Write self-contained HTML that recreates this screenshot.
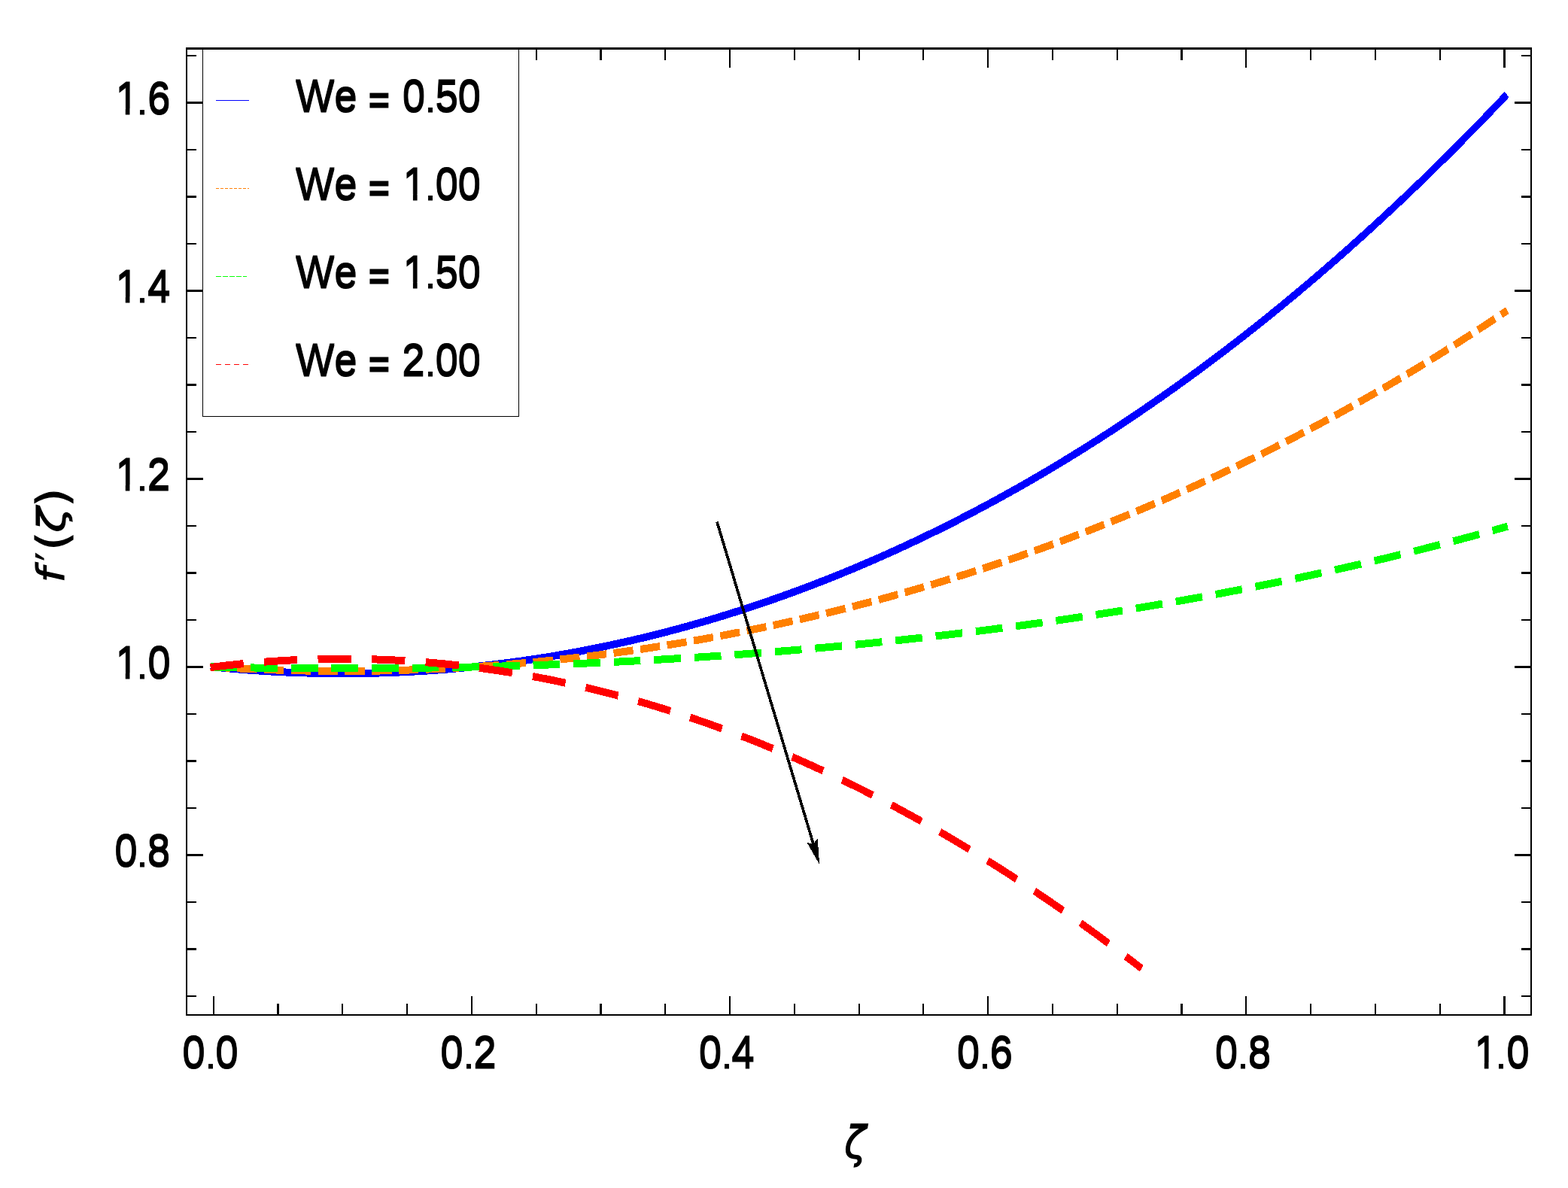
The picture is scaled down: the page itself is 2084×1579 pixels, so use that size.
<!DOCTYPE html>
<html lang="en"><head><meta charset="utf-8"><title>f′(ζ) versus ζ for several We</title>
<style>html,body{margin:0;padding:0;background:#fff}body{width:2084px;height:1579px;overflow:hidden}svg{display:block}text{font-family:"Liberation Sans", Arial, Helvetica, sans-serif;fill:#000}text.m{font-family:"DejaVu Sans","Liberation Sans",sans-serif}</style></head><body>
<svg width="2084" height="1579" viewBox="0 0 2084 1579">
<rect x="0" y="0" width="2084" height="1579" fill="#fff"/>
<g fill="#000" shape-rendering="crispEdges">
<rect x="283" y="1324" width="2" height="24"/>
<rect x="283" y="66" width="2" height="24"/>
<rect x="368" y="1334" width="3" height="14"/>
<rect x="368" y="66" width="3" height="14"/>
<rect x="454" y="1334" width="2" height="14"/>
<rect x="454" y="66" width="2" height="14"/>
<rect x="540" y="1334" width="2" height="14"/>
<rect x="540" y="66" width="2" height="14"/>
<rect x="626" y="1324" width="2" height="24"/>
<rect x="626" y="66" width="2" height="24"/>
<rect x="712" y="1334" width="2" height="14"/>
<rect x="712" y="66" width="2" height="14"/>
<rect x="797" y="1334" width="3" height="14"/>
<rect x="797" y="66" width="3" height="14"/>
<rect x="883" y="1334" width="2" height="14"/>
<rect x="883" y="66" width="2" height="14"/>
<rect x="969" y="1324" width="2" height="24"/>
<rect x="969" y="66" width="2" height="24"/>
<rect x="1055" y="1334" width="2" height="14"/>
<rect x="1055" y="66" width="2" height="14"/>
<rect x="1141" y="1334" width="2" height="14"/>
<rect x="1141" y="66" width="2" height="14"/>
<rect x="1226" y="1334" width="2" height="14"/>
<rect x="1226" y="66" width="2" height="14"/>
<rect x="1312" y="1324" width="2" height="24"/>
<rect x="1312" y="66" width="2" height="24"/>
<rect x="1398" y="1334" width="2" height="14"/>
<rect x="1398" y="66" width="2" height="14"/>
<rect x="1484" y="1334" width="2" height="14"/>
<rect x="1484" y="66" width="2" height="14"/>
<rect x="1569" y="1334" width="3" height="14"/>
<rect x="1569" y="66" width="3" height="14"/>
<rect x="1655" y="1324" width="2" height="24"/>
<rect x="1655" y="66" width="2" height="24"/>
<rect x="1741" y="1334" width="2" height="14"/>
<rect x="1741" y="66" width="2" height="14"/>
<rect x="1827" y="1334" width="2" height="14"/>
<rect x="1827" y="66" width="2" height="14"/>
<rect x="1913" y="1334" width="2" height="14"/>
<rect x="1913" y="66" width="2" height="14"/>
<rect x="1998" y="1324" width="3" height="24"/>
<rect x="1998" y="66" width="3" height="24"/>
<rect x="249" y="1323" width="12" height="2"/>
<rect x="2022" y="1323" width="12" height="2"/>
<rect x="249" y="1260" width="12" height="3"/>
<rect x="2022" y="1260" width="12" height="3"/>
<rect x="249" y="1198" width="12" height="2"/>
<rect x="2022" y="1198" width="12" height="2"/>
<rect x="249" y="1135" width="21" height="3"/>
<rect x="2013" y="1135" width="21" height="3"/>
<rect x="249" y="1073" width="12" height="2"/>
<rect x="2022" y="1073" width="12" height="2"/>
<rect x="249" y="1010" width="12" height="3"/>
<rect x="2022" y="1010" width="12" height="3"/>
<rect x="249" y="948" width="12" height="2"/>
<rect x="2022" y="948" width="12" height="2"/>
<rect x="249" y="885" width="21" height="3"/>
<rect x="2013" y="885" width="21" height="3"/>
<rect x="249" y="823" width="12" height="2"/>
<rect x="2022" y="823" width="12" height="2"/>
<rect x="249" y="760" width="12" height="3"/>
<rect x="2022" y="760" width="12" height="3"/>
<rect x="249" y="698" width="12" height="2"/>
<rect x="2022" y="698" width="12" height="2"/>
<rect x="249" y="635" width="21" height="3"/>
<rect x="2013" y="635" width="21" height="3"/>
<rect x="249" y="573" width="12" height="2"/>
<rect x="2022" y="573" width="12" height="2"/>
<rect x="249" y="510" width="12" height="3"/>
<rect x="2022" y="510" width="12" height="3"/>
<rect x="249" y="448" width="12" height="2"/>
<rect x="2022" y="448" width="12" height="2"/>
<rect x="249" y="385" width="21" height="3"/>
<rect x="2013" y="385" width="21" height="3"/>
<rect x="249" y="323" width="12" height="2"/>
<rect x="2022" y="323" width="12" height="2"/>
<rect x="249" y="260" width="12" height="3"/>
<rect x="2022" y="260" width="12" height="3"/>
<rect x="249" y="198" width="12" height="2"/>
<rect x="2022" y="198" width="12" height="2"/>
<rect x="249" y="135" width="21" height="3"/>
<rect x="2013" y="135" width="21" height="3"/>
<rect x="249" y="73" width="12" height="2"/>
<rect x="2022" y="73" width="12" height="2"/>
</g>
<g transform="scale(0.875 1)" fill="none" stroke-width="10" stroke-linecap="butt" stroke-linejoin="round" shape-rendering="crispEdges">
<path stroke="#0000ff" d="M319.59 886.06 L324.57 886.50 L329.47 886.93 L334.37 887.35 L339.28 887.75 L344.18 888.15 L349.08 888.53 L353.98 888.91 L358.88 889.27 L363.78 889.62 L368.68 889.97 L373.59 890.30 L378.49 890.62 L383.39 890.93 L388.29 891.22 L393.19 891.51 L398.09 891.79 L402.99 892.06 L407.90 892.31 L412.80 892.56 L417.70 892.79 L422.60 893.01 L427.50 893.23 L432.40 893.43 L437.30 893.62 L442.21 893.80 L447.11 893.97 L452.01 894.12 L456.91 894.27 L461.81 894.41 L466.71 894.53 L471.61 894.65 L476.52 894.75 L481.42 894.85 L486.32 894.93 L491.22 895.00 L496.12 895.06 L501.02 895.11 L505.92 895.15 L510.83 895.18 L515.73 895.19 L520.63 895.20 L525.53 895.20 L530.43 895.18 L535.33 895.15 L540.23 895.12 L545.14 895.07 L550.04 895.01 L554.94 894.94 L559.84 894.86 L564.74 894.77 L569.64 894.66 L574.54 894.55 L579.45 894.43 L584.35 894.29 L589.25 894.15 L594.15 893.99 L599.05 893.82 L603.95 893.64 L608.85 893.45 L613.76 893.25 L618.66 893.04 L623.56 892.82 L628.46 892.58 L633.36 892.34 L638.26 892.08 L643.16 891.82 L648.07 891.54 L652.97 891.25 L657.87 890.95 L662.77 890.64 L667.67 890.32 L672.57 889.99 L677.47 889.64 L682.38 889.29 L687.28 888.92 L692.18 888.55 L697.08 888.16 L701.98 887.76 L706.88 887.35 L711.78 886.93 L716.69 886.50 L721.59 886.06 L726.49 885.60 L731.39 885.14 L736.29 884.66 L741.19 884.18 L746.09 883.68 L751.00 883.17 L755.90 882.65 L760.80 882.12 L765.70 881.58 L770.60 881.02 L775.50 880.46 L780.40 879.88 L785.31 879.30 L790.21 878.70 L795.11 878.09 L800.01 877.47 L804.91 876.84 L809.81 876.20 L814.71 875.54 L819.62 874.88 L824.52 874.20 L829.42 873.52 L834.32 872.82 L839.22 872.11 L844.12 871.39 L849.02 870.66 L853.93 869.91 L858.83 869.16 L863.73 868.40 L868.63 867.62 L873.53 866.83 L878.43 866.03 L883.33 865.22 L888.24 864.40 L893.14 863.57 L898.04 862.72 L902.94 861.87 L907.84 861.00 L912.74 860.12 L917.64 859.24 L922.55 858.33 L927.45 857.42 L932.35 856.50 L937.25 855.57 L942.15 854.62 L947.05 853.66 L951.95 852.69 L956.86 851.71 L961.76 850.72 L966.66 849.72 L971.56 848.71 L976.46 847.68 L981.36 846.65 L986.26 845.60 L991.17 844.54 L996.07 843.47 L1000.97 842.38 L1005.87 841.29 L1010.77 840.19 L1015.67 839.07 L1020.57 837.94 L1025.48 836.80 L1030.38 835.65 L1035.28 834.49 L1040.18 833.31 L1045.08 832.13 L1049.98 830.93 L1054.88 829.72 L1059.79 828.50 L1064.69 827.27 L1069.59 826.03 L1074.49 824.77 L1079.39 823.50 L1084.29 822.23 L1089.19 820.94 L1094.10 819.64 L1099.00 818.32 L1103.90 817.00 L1108.80 815.66 L1113.70 814.32 L1118.60 812.96 L1123.50 811.58 L1128.41 810.20 L1133.31 808.81 L1138.21 807.40 L1143.11 805.98 L1148.01 804.55 L1152.91 803.11 L1157.81 801.66 L1162.72 800.20 L1167.62 798.72 L1172.52 797.23 L1177.42 795.73 L1182.32 794.22 L1187.22 792.70 L1192.12 791.16 L1197.03 789.61 L1201.93 788.05 L1206.83 786.48 L1211.73 784.90 L1216.63 783.31 L1221.53 781.70 L1226.43 780.08 L1231.34 778.45 L1236.24 776.81 L1241.14 775.16 L1246.04 773.49 L1250.94 771.81 L1255.84 770.12 L1260.74 768.42 L1265.65 766.71 L1270.55 764.98 L1275.45 763.25 L1280.35 761.50 L1285.25 759.73 L1290.15 757.96 L1295.05 756.18 L1299.96 754.38 L1304.86 752.57 L1309.76 750.75 L1314.66 748.91 L1319.56 747.07 L1324.46 745.21 L1329.36 743.34 L1334.27 741.46 L1339.17 739.56 L1344.07 737.66 L1348.97 735.74 L1353.87 733.81 L1358.77 731.86 L1363.67 729.91 L1368.58 727.94 L1373.48 725.96 L1378.38 723.97 L1383.28 721.97 L1388.18 719.95 L1393.08 717.92 L1397.98 715.88 L1402.89 713.83 L1407.79 711.76 L1412.69 709.68 L1417.59 707.59 L1422.49 705.49 L1427.39 703.38 L1432.29 701.25 L1437.20 699.11 L1442.10 696.96 L1447.00 694.79 L1451.90 692.62 L1456.80 690.43 L1461.70 688.22 L1466.60 686.01 L1471.51 683.78 L1476.41 681.54 L1481.31 679.29 L1486.21 677.03 L1491.11 674.75 L1496.01 672.46 L1500.91 670.16 L1505.82 667.85 L1510.72 665.52 L1515.62 663.18 L1520.52 660.83 L1525.42 658.46 L1530.32 656.08 L1535.22 653.69 L1540.13 651.29 L1545.03 648.88 L1549.93 646.45 L1554.83 644.01 L1559.73 641.55 L1564.63 639.09 L1569.53 636.61 L1574.44 634.12 L1579.34 631.61 L1584.24 629.09 L1589.14 626.56 L1594.04 624.02 L1598.94 621.46 L1603.84 618.89 L1608.75 616.31 L1613.65 613.72 L1618.55 611.11 L1623.45 608.49 L1628.35 605.86 L1633.25 603.21 L1638.15 600.55 L1643.06 597.88 L1647.96 595.19 L1652.86 592.49 L1657.76 589.78 L1662.66 587.06 L1667.56 584.32 L1672.46 581.57 L1677.37 578.81 L1682.27 576.03 L1687.17 573.24 L1692.07 570.44 L1696.97 567.62 L1701.87 564.79 L1706.77 561.95 L1711.68 559.09 L1716.58 556.22 L1721.48 553.34 L1726.38 550.45 L1731.28 547.54 L1736.18 544.61 L1741.08 541.68 L1745.99 538.73 L1750.89 535.77 L1755.79 532.79 L1760.69 529.80 L1765.59 526.80 L1770.49 523.79 L1775.39 520.76 L1780.30 517.72 L1785.20 514.66 L1790.10 511.59 L1795.00 508.51 L1799.90 505.41 L1804.80 502.30 L1809.70 499.18 L1814.61 496.04 L1819.51 492.89 L1824.41 489.73 L1829.31 486.55 L1834.21 483.36 L1839.11 480.15 L1844.01 476.94 L1848.92 473.70 L1853.82 470.46 L1858.72 467.20 L1863.62 463.92 L1868.52 460.64 L1873.42 457.34 L1878.32 454.02 L1883.23 450.69 L1888.13 447.35 L1893.03 444.00 L1897.93 440.63 L1902.83 437.24 L1907.73 433.84 L1912.63 430.43 L1917.54 427.01 L1922.44 423.57 L1927.34 420.11 L1932.24 416.65 L1937.14 413.17 L1942.04 409.67 L1946.94 406.16 L1951.85 402.64 L1956.75 399.10 L1961.65 395.55 L1966.55 391.98 L1971.45 388.40 L1976.35 384.81 L1981.25 381.20 L1986.16 377.58 L1991.06 373.94 L1995.96 370.29 L2000.86 366.63 L2005.76 362.95 L2010.66 359.25 L2015.56 355.54 L2020.47 351.82 L2025.37 348.09 L2030.27 344.33 L2035.17 340.57 L2040.07 336.79 L2044.97 333.00 L2049.87 329.19 L2054.78 325.36 L2059.68 321.53 L2064.58 317.67 L2069.48 313.81 L2074.38 309.93 L2079.28 306.03 L2084.18 302.12 L2089.09 298.20 L2093.99 294.26 L2098.89 290.30 L2103.79 286.33 L2108.69 282.35 L2113.59 278.35 L2118.49 274.34 L2123.40 270.31 L2128.30 266.27 L2133.20 262.21 L2138.10 258.14 L2143.00 254.06 L2147.90 249.95 L2152.80 245.84 L2157.71 241.71 L2162.61 237.56 L2167.51 233.40 L2172.41 229.22 L2177.31 225.03 L2182.21 220.83 L2187.11 216.60 L2192.02 212.37 L2196.92 208.12 L2201.82 203.85 L2206.72 199.57 L2211.62 195.27 L2216.52 190.96 L2221.42 186.64 L2226.33 182.29 L2231.23 177.94 L2236.13 173.56 L2241.03 169.18 L2245.93 164.77 L2250.83 160.36 L2255.73 155.92 L2260.64 151.47 L2265.54 147.01 L2270.44 142.53 L2275.34 138.04 L2280.24 133.53 L2285.14 129.00 L2288.82 125.61"/>
<path stroke="#ff8000" stroke-dasharray="30 10.9" d="M319.58 886.22 L324.57 886.50 L329.47 886.77 L334.37 887.03 L339.28 887.29 L344.18 887.54 L349.08 887.79 L353.98 888.02 L358.88 888.25 L363.78 888.47 L368.68 888.69 L373.59 888.90 L378.49 889.10 L383.39 889.29 L388.29 889.48 L393.19 889.66 L398.09 889.84 L402.99 890.00 L407.90 890.16 L412.80 890.32 L417.70 890.46 L422.60 890.60 L427.50 890.74 L432.40 890.86 L437.30 890.98 L442.21 891.09 L447.11 891.20 L452.01 891.30 L456.91 891.39 L461.81 891.47 L466.71 891.55 L471.61 891.62 L476.52 891.69 L481.42 891.75 L486.32 891.80 L491.22 891.84 L496.12 891.88 L501.02 891.91 L505.92 891.93 L510.83 891.95 L515.73 891.96 L520.63 891.96 L525.53 891.96 L530.43 891.94 L535.33 891.93 L540.23 891.90 L545.14 891.87 L550.04 891.83 L554.94 891.79 L559.84 891.74 L564.74 891.68 L569.64 891.61 L574.54 891.54 L579.45 891.46 L584.35 891.38 L589.25 891.29 L594.15 891.19 L599.05 891.08 L603.95 890.97 L608.85 890.85 L613.76 890.72 L618.66 890.59 L623.56 890.45 L628.46 890.30 L633.36 890.15 L638.26 889.99 L643.16 889.82 L648.07 889.65 L652.97 889.47 L657.87 889.28 L662.77 889.08 L667.67 888.88 L672.57 888.68 L677.47 888.46 L682.38 888.24 L687.28 888.01 L692.18 887.78 L697.08 887.53 L701.98 887.29 L706.88 887.03 L711.78 886.77 L716.69 886.50 L721.59 886.22 L726.49 885.94 L731.39 885.65 L736.29 885.36 L741.19 885.05 L746.09 884.74 L751.00 884.43 L755.90 884.10 L760.80 883.77 L765.70 883.44 L770.60 883.09 L775.50 882.74 L780.40 882.39 L785.31 882.02 L790.21 881.65 L795.11 881.27 L800.01 880.89 L804.91 880.50 L809.81 880.10 L814.71 879.69 L819.62 879.28 L824.52 878.86 L829.42 878.44 L834.32 878.01 L839.22 877.57 L844.12 877.12 L849.02 876.67 L853.93 876.21 L858.83 875.74 L863.73 875.27 L868.63 874.79 L873.53 874.30 L878.43 873.81 L883.33 873.31 L888.24 872.80 L893.14 872.28 L898.04 871.76 L902.94 871.23 L907.84 870.70 L912.74 870.16 L917.64 869.61 L922.55 869.05 L927.45 868.49 L932.35 867.92 L937.25 867.34 L942.15 866.76 L947.05 866.17 L951.95 865.57 L956.86 864.97 L961.76 864.36 L966.66 863.74 L971.56 863.11 L976.46 862.48 L981.36 861.84 L986.26 861.20 L991.17 860.55 L996.07 859.89 L1000.97 859.22 L1005.87 858.55 L1010.77 857.86 L1015.67 857.18 L1020.57 856.48 L1025.48 855.78 L1030.38 855.07 L1035.28 854.36 L1040.18 853.63 L1045.08 852.91 L1049.98 852.17 L1054.88 851.43 L1059.79 850.67 L1064.69 849.92 L1069.59 849.15 L1074.49 848.38 L1079.39 847.60 L1084.29 846.82 L1089.19 846.02 L1094.10 845.22 L1099.00 844.42 L1103.90 843.60 L1108.80 842.78 L1113.70 841.95 L1118.60 841.12 L1123.50 840.28 L1128.41 839.43 L1133.31 838.57 L1138.21 837.70 L1143.11 836.83 L1148.01 835.96 L1152.91 835.07 L1157.81 834.18 L1162.72 833.28 L1167.62 832.37 L1172.52 831.46 L1177.42 830.54 L1182.32 829.61 L1187.22 828.67 L1192.12 827.73 L1197.03 826.78 L1201.93 825.82 L1206.83 824.86 L1211.73 823.89 L1216.63 822.91 L1221.53 821.92 L1226.43 820.93 L1231.34 819.93 L1236.24 818.92 L1241.14 817.90 L1246.04 816.88 L1250.94 815.85 L1255.84 814.81 L1260.74 813.77 L1265.65 812.72 L1270.55 811.66 L1275.45 810.59 L1280.35 809.52 L1285.25 808.44 L1290.15 807.35 L1295.05 806.25 L1299.96 805.15 L1304.86 804.04 L1309.76 802.92 L1314.66 801.79 L1319.56 800.66 L1324.46 799.52 L1329.36 798.37 L1334.27 797.22 L1339.17 796.05 L1344.07 794.88 L1348.97 793.70 L1353.87 792.52 L1358.77 791.33 L1363.67 790.12 L1368.58 788.92 L1373.48 787.70 L1378.38 786.48 L1383.28 785.25 L1388.18 784.01 L1393.08 782.76 L1397.98 781.51 L1402.89 780.25 L1407.79 778.98 L1412.69 777.70 L1417.59 776.42 L1422.49 775.13 L1427.39 773.83 L1432.29 772.52 L1437.20 771.20 L1442.10 769.88 L1447.00 768.55 L1451.90 767.21 L1456.80 765.87 L1461.70 764.51 L1466.60 763.15 L1471.51 761.78 L1476.41 760.41 L1481.31 759.02 L1486.21 757.63 L1491.11 756.23 L1496.01 754.82 L1500.91 753.41 L1505.82 751.98 L1510.72 750.55 L1515.62 749.11 L1520.52 747.66 L1525.42 746.21 L1530.32 744.74 L1535.22 743.27 L1540.13 741.79 L1545.03 740.31 L1549.93 738.81 L1554.83 737.31 L1559.73 735.80 L1564.63 734.28 L1569.53 732.75 L1574.44 731.22 L1579.34 729.67 L1584.24 728.12 L1589.14 726.56 L1594.04 724.99 L1598.94 723.42 L1603.84 721.83 L1608.75 720.24 L1613.65 718.64 L1618.55 717.03 L1623.45 715.42 L1628.35 713.79 L1633.25 712.16 L1638.15 710.52 L1643.06 708.87 L1647.96 707.21 L1652.86 705.55 L1657.76 703.87 L1662.66 702.19 L1667.56 700.50 L1672.46 698.80 L1677.37 697.09 L1682.27 695.38 L1687.17 693.65 L1692.07 691.92 L1696.97 690.18 L1701.87 688.43 L1706.77 686.67 L1711.68 684.91 L1716.58 683.13 L1721.48 681.35 L1726.38 679.56 L1731.28 677.76 L1736.18 675.95 L1741.08 674.13 L1745.99 672.31 L1750.89 670.47 L1755.79 668.63 L1760.69 666.78 L1765.59 664.92 L1770.49 663.05 L1775.39 661.17 L1780.30 659.28 L1785.20 657.39 L1790.10 655.49 L1795.00 653.57 L1799.90 651.65 L1804.80 649.72 L1809.70 647.78 L1814.61 645.84 L1819.51 643.88 L1824.41 641.91 L1829.31 639.94 L1834.21 637.96 L1839.11 635.97 L1844.01 633.97 L1848.92 631.96 L1853.82 629.94 L1858.72 627.91 L1863.62 625.88 L1868.52 623.83 L1873.42 621.78 L1878.32 619.71 L1883.23 617.64 L1888.13 615.56 L1893.03 613.47 L1897.93 611.37 L1902.83 609.26 L1907.73 607.14 L1912.63 605.02 L1917.54 602.88 L1922.44 600.73 L1927.34 598.58 L1932.24 596.42 L1937.14 594.24 L1942.04 592.06 L1946.94 589.87 L1951.85 587.67 L1956.75 585.46 L1961.65 583.24 L1966.55 581.01 L1971.45 578.77 L1976.35 576.53 L1981.25 574.27 L1986.16 572.00 L1991.06 569.73 L1995.96 567.44 L2000.86 565.15 L2005.76 562.84 L2010.66 560.53 L2015.56 558.21 L2020.47 555.87 L2025.37 553.53 L2030.27 551.18 L2035.17 548.82 L2040.07 546.45 L2044.97 544.06 L2049.87 541.67 L2054.78 539.27 L2059.68 536.86 L2064.58 534.44 L2069.48 532.01 L2074.38 529.57 L2079.28 527.12 L2084.18 524.67 L2089.09 522.20 L2093.99 519.72 L2098.89 517.23 L2103.79 514.73 L2108.69 512.22 L2113.59 509.70 L2118.49 507.17 L2123.40 504.64 L2128.30 502.09 L2133.20 499.53 L2138.10 496.96 L2143.00 494.38 L2147.90 491.79 L2152.80 489.19 L2157.71 486.58 L2162.61 483.96 L2167.51 481.33 L2172.41 478.69 L2177.31 476.04 L2182.21 473.38 L2187.11 470.71 L2192.02 468.03 L2196.92 465.34 L2201.82 462.64 L2206.72 459.93 L2211.62 457.20 L2216.52 454.47 L2221.42 451.73 L2226.33 448.97 L2231.23 446.21 L2236.13 443.43 L2241.03 440.65 L2245.93 437.85 L2250.83 435.05 L2255.73 432.23 L2260.64 429.40 L2265.54 426.56 L2270.44 423.71 L2275.34 420.85 L2280.24 417.98 L2285.14 415.10 L2289.45 412.57"/>
<path stroke="#00ff00" stroke-dasharray="40.8 20.48" d="M319.57 886.40 L324.57 886.50 L329.47 886.59 L334.37 886.69 L339.28 886.78 L344.18 886.86 L349.08 886.95 L353.98 887.03 L358.88 887.11 L363.78 887.19 L368.68 887.26 L373.59 887.33 L378.49 887.41 L383.39 887.47 L388.29 887.54 L393.19 887.60 L398.09 887.66 L402.99 887.72 L407.90 887.78 L412.80 887.83 L417.70 887.88 L422.60 887.93 L427.50 887.98 L432.40 888.02 L437.30 888.06 L442.21 888.10 L447.11 888.14 L452.01 888.18 L456.91 888.21 L461.81 888.24 L466.71 888.27 L471.61 888.29 L476.52 888.31 L481.42 888.33 L486.32 888.35 L491.22 888.37 L496.12 888.38 L501.02 888.39 L505.92 888.40 L510.83 888.41 L515.73 888.41 L520.63 888.41 L525.53 888.41 L530.43 888.41 L535.33 888.40 L540.23 888.39 L545.14 888.38 L550.04 888.37 L554.94 888.36 L559.84 888.34 L564.74 888.32 L569.64 888.30 L574.54 888.27 L579.45 888.24 L584.35 888.21 L589.25 888.18 L594.15 888.15 L599.05 888.11 L603.95 888.07 L608.85 888.03 L613.76 887.99 L618.66 887.94 L623.56 887.89 L628.46 887.84 L633.36 887.78 L638.26 887.73 L643.16 887.67 L648.07 887.61 L652.97 887.55 L657.87 887.48 L662.77 887.41 L667.67 887.34 L672.57 887.27 L677.47 887.19 L682.38 887.11 L687.28 887.03 L692.18 886.95 L697.08 886.87 L701.98 886.78 L706.88 886.69 L711.78 886.60 L716.69 886.50 L721.59 886.40 L726.49 886.30 L731.39 886.20 L736.29 886.10 L741.19 885.99 L746.09 885.88 L751.00 885.77 L755.90 885.65 L760.80 885.53 L765.70 885.41 L770.60 885.29 L775.50 885.17 L780.40 885.04 L785.31 884.91 L790.21 884.78 L795.11 884.64 L800.01 884.51 L804.91 884.37 L809.81 884.23 L814.71 884.08 L819.62 883.93 L824.52 883.78 L829.42 883.63 L834.32 883.48 L839.22 883.32 L844.12 883.16 L849.02 883.00 L853.93 882.83 L858.83 882.67 L863.73 882.50 L868.63 882.32 L873.53 882.15 L878.43 881.97 L883.33 881.79 L888.24 881.61 L893.14 881.43 L898.04 881.24 L902.94 881.05 L907.84 880.85 L912.74 880.66 L917.64 880.46 L922.55 880.26 L927.45 880.06 L932.35 879.85 L937.25 879.64 L942.15 879.43 L947.05 879.22 L951.95 879.00 L956.86 878.79 L961.76 878.56 L966.66 878.34 L971.56 878.11 L976.46 877.88 L981.36 877.65 L986.26 877.42 L991.17 877.18 L996.07 876.94 L1000.97 876.70 L1005.87 876.46 L1010.77 876.21 L1015.67 875.96 L1020.57 875.70 L1025.48 875.45 L1030.38 875.19 L1035.28 874.93 L1040.18 874.67 L1045.08 874.40 L1049.98 874.13 L1054.88 873.86 L1059.79 873.58 L1064.69 873.31 L1069.59 873.03 L1074.49 872.75 L1079.39 872.46 L1084.29 872.17 L1089.19 871.88 L1094.10 871.59 L1099.00 871.29 L1103.90 870.99 L1108.80 870.69 L1113.70 870.39 L1118.60 870.08 L1123.50 869.77 L1128.41 869.46 L1133.31 869.14 L1138.21 868.82 L1143.11 868.50 L1148.01 868.18 L1152.91 867.85 L1157.81 867.52 L1162.72 867.19 L1167.62 866.85 L1172.52 866.52 L1177.42 866.18 L1182.32 865.83 L1187.22 865.48 L1192.12 865.14 L1197.03 864.78 L1201.93 864.43 L1206.83 864.07 L1211.73 863.71 L1216.63 863.35 L1221.53 862.98 L1226.43 862.61 L1231.34 862.24 L1236.24 861.86 L1241.14 861.48 L1246.04 861.10 L1250.94 860.72 L1255.84 860.33 L1260.74 859.94 L1265.65 859.55 L1270.55 859.15 L1275.45 858.75 L1280.35 858.35 L1285.25 857.95 L1290.15 857.54 L1295.05 857.13 L1299.96 856.72 L1304.86 856.30 L1309.76 855.88 L1314.66 855.46 L1319.56 855.03 L1324.46 854.60 L1329.36 854.17 L1334.27 853.73 L1339.17 853.30 L1344.07 852.86 L1348.97 852.41 L1353.87 851.96 L1358.77 851.51 L1363.67 851.06 L1368.58 850.61 L1373.48 850.15 L1378.38 849.68 L1383.28 849.22 L1388.18 848.75 L1393.08 848.28 L1397.98 847.80 L1402.89 847.32 L1407.79 846.84 L1412.69 846.36 L1417.59 845.87 L1422.49 845.38 L1427.39 844.89 L1432.29 844.39 L1437.20 843.89 L1442.10 843.38 L1447.00 842.88 L1451.90 842.37 L1456.80 841.85 L1461.70 841.34 L1466.60 840.82 L1471.51 840.29 L1476.41 839.77 L1481.31 839.24 L1486.21 838.71 L1491.11 838.17 L1496.01 837.63 L1500.91 837.09 L1505.82 836.54 L1510.72 835.99 L1515.62 835.44 L1520.52 834.88 L1525.42 834.32 L1530.32 833.76 L1535.22 833.20 L1540.13 832.63 L1545.03 832.05 L1549.93 831.48 L1554.83 830.90 L1559.73 830.31 L1564.63 829.73 L1569.53 829.14 L1574.44 828.54 L1579.34 827.95 L1584.24 827.35 L1589.14 826.74 L1594.04 826.14 L1598.94 825.53 L1603.84 824.91 L1608.75 824.29 L1613.65 823.67 L1618.55 823.05 L1623.45 822.42 L1628.35 821.79 L1633.25 821.15 L1638.15 820.51 L1643.06 819.87 L1647.96 819.23 L1652.86 818.58 L1657.76 817.92 L1662.66 817.27 L1667.56 816.61 L1672.46 815.94 L1677.37 815.27 L1682.27 814.60 L1687.17 813.93 L1692.07 813.25 L1696.97 812.57 L1701.87 811.88 L1706.77 811.19 L1711.68 810.50 L1716.58 809.80 L1721.48 809.10 L1726.38 808.40 L1731.28 807.69 L1736.18 806.98 L1741.08 806.26 L1745.99 805.54 L1750.89 804.82 L1755.79 804.09 L1760.69 803.36 L1765.59 802.63 L1770.49 801.89 L1775.39 801.15 L1780.30 800.40 L1785.20 799.65 L1790.10 798.90 L1795.00 798.14 L1799.90 797.38 L1804.80 796.61 L1809.70 795.84 L1814.61 795.07 L1819.51 794.29 L1824.41 793.51 L1829.31 792.72 L1834.21 791.94 L1839.11 791.14 L1844.01 790.35 L1848.92 789.54 L1853.82 788.74 L1858.72 787.93 L1863.62 787.12 L1868.52 786.30 L1873.42 785.48 L1878.32 784.65 L1883.23 783.82 L1888.13 782.99 L1893.03 782.15 L1897.93 781.31 L1902.83 780.47 L1907.73 779.62 L1912.63 778.76 L1917.54 777.90 L1922.44 777.04 L1927.34 776.17 L1932.24 775.30 L1937.14 774.43 L1942.04 773.55 L1946.94 772.67 L1951.85 771.78 L1956.75 770.89 L1961.65 769.99 L1966.55 769.09 L1971.45 768.19 L1976.35 767.28 L1981.25 766.36 L1986.16 765.45 L1991.06 764.52 L1995.96 763.60 L2000.86 762.67 L2005.76 761.73 L2010.66 760.79 L2015.56 759.85 L2020.47 758.90 L2025.37 757.95 L2030.27 756.99 L2035.17 756.03 L2040.07 755.06 L2044.97 754.09 L2049.87 753.12 L2054.78 752.14 L2059.68 751.16 L2064.58 750.17 L2069.48 749.17 L2074.38 748.18 L2079.28 747.17 L2084.18 746.17 L2089.09 745.16 L2093.99 744.14 L2098.89 743.12 L2103.79 742.10 L2108.69 741.07 L2113.59 740.03 L2118.49 738.99 L2123.40 737.95 L2128.30 736.90 L2133.20 735.85 L2138.10 734.79 L2143.00 733.73 L2147.90 732.66 L2152.80 731.59 L2157.71 730.51 L2162.61 729.43 L2167.51 728.34 L2172.41 727.25 L2177.31 726.16 L2182.21 725.06 L2187.11 723.95 L2192.02 722.84 L2196.92 721.73 L2201.82 720.61 L2206.72 719.48 L2211.62 718.35 L2216.52 717.22 L2221.42 716.08 L2226.33 714.93 L2231.23 713.78 L2236.13 712.63 L2241.03 711.47 L2245.93 710.30 L2250.83 709.13 L2255.73 707.96 L2260.64 706.78 L2265.54 705.59 L2270.44 704.40 L2275.34 703.21 L2280.24 702.01 L2285.14 700.80 L2290.00 699.61"/>
<path stroke="#ff0000" stroke-dasharray="50.6 31.25" d="M319.60 887.04 L324.57 886.50 L328.08 886.12 L331.60 885.74 L335.11 885.38 L338.62 885.02 L342.14 884.66 L345.65 884.31 L349.16 883.97 L352.68 883.64 L356.19 883.31 L359.70 882.99 L363.22 882.68 L366.73 882.38 L370.24 882.08 L373.76 881.79 L377.27 881.50 L380.78 881.22 L384.30 880.95 L387.81 880.69 L391.32 880.43 L394.84 880.18 L398.35 879.94 L401.86 879.70 L405.38 879.47 L408.89 879.25 L412.41 879.03 L415.92 878.82 L419.43 878.62 L422.95 878.42 L426.46 878.24 L429.97 878.05 L433.49 877.88 L437.00 877.71 L440.51 877.55 L444.03 877.40 L447.54 877.25 L451.05 877.11 L454.57 876.98 L458.08 876.85 L461.59 876.73 L465.11 876.62 L468.62 876.51 L472.13 876.41 L475.65 876.32 L479.16 876.24 L482.67 876.16 L486.19 876.09 L489.70 876.02 L493.21 875.97 L496.73 875.92 L500.24 875.87 L503.75 875.84 L507.27 875.81 L510.78 875.78 L514.29 875.77 L517.81 875.76 L521.32 875.76 L524.83 875.76 L528.35 875.77 L531.86 875.79 L535.37 875.82 L538.89 875.85 L542.40 875.89 L545.91 875.94 L549.43 875.99 L552.94 876.05 L556.45 876.12 L559.97 876.19 L563.48 876.27 L566.99 876.36 L570.51 876.45 L574.02 876.55 L577.53 876.66 L581.05 876.78 L584.56 876.90 L588.07 877.03 L591.59 877.16 L595.10 877.31 L598.61 877.46 L602.13 877.61 L605.64 877.78 L609.15 877.95 L612.67 878.12 L616.18 878.31 L619.69 878.50 L623.21 878.70 L626.72 878.90 L630.23 879.11 L633.75 879.33 L637.26 879.56 L640.77 879.79 L644.29 880.03 L647.80 880.28 L651.31 880.53 L654.83 880.79 L658.34 881.06 L661.85 881.33 L665.37 881.61 L668.88 881.90 L672.39 882.19 L675.91 882.50 L679.42 882.80 L682.93 883.12 L686.45 883.44 L689.96 883.77 L693.47 884.11 L696.99 884.45 L700.50 884.80 L704.01 885.16 L707.53 885.52 L711.04 885.89 L714.55 886.27 L718.07 886.65 L721.58 887.04 L725.09 887.44 L728.61 887.85 L732.12 888.26 L735.63 888.68 L739.15 889.10 L742.66 889.53 L746.17 889.97 L749.69 890.42 L753.20 890.87 L756.71 891.33 L760.23 891.80 L763.74 892.28 L767.25 892.76 L770.77 893.24 L774.28 893.74 L777.79 894.24 L781.31 894.75 L784.82 895.26 L788.33 895.79 L791.85 896.32 L795.36 896.85 L798.87 897.39 L802.39 897.94 L805.90 898.50 L809.41 899.06 L812.93 899.64 L816.44 900.21 L819.95 900.80 L823.47 901.39 L826.98 901.99 L830.49 902.59 L834.01 903.20 L837.52 903.82 L841.03 904.45 L844.55 905.08 L848.06 905.72 L851.57 906.37 L855.09 907.02 L858.60 907.68 L862.11 908.35 L865.63 909.02 L869.14 909.70 L872.65 910.39 L876.17 911.08 L879.68 911.79 L883.19 912.50 L886.71 913.21 L890.22 913.93 L893.73 914.66 L897.25 915.40 L900.76 916.14 L904.27 916.89 L907.79 917.65 L911.30 918.41 L914.81 919.18 L918.33 919.96 L921.84 920.74 L925.35 921.54 L928.87 922.33 L932.38 923.14 L935.89 923.95 L939.41 924.77 L942.92 925.60 L946.43 926.43 L949.95 927.27 L953.46 928.11 L956.97 928.97 L960.49 929.83 L964.00 930.70 L967.51 931.57 L971.03 932.45 L974.54 933.34 L978.05 934.23 L981.57 935.14 L985.08 936.04 L988.59 936.96 L992.11 937.88 L995.62 938.81 L999.13 939.75 L1002.65 940.69 L1006.16 941.64 L1009.67 942.60 L1013.19 943.56 L1016.70 944.53 L1020.21 945.51 L1023.73 946.49 L1027.24 947.49 L1030.75 948.48 L1034.27 949.49 L1037.78 950.50 L1041.29 951.52 L1044.81 952.55 L1048.32 953.58 L1051.83 954.62 L1055.35 955.67 L1058.86 956.72 L1062.37 957.78 L1065.89 958.85 L1069.40 959.92 L1072.91 961.00 L1076.43 962.09 L1079.94 963.18 L1083.45 964.29 L1086.97 965.40 L1090.48 966.51 L1093.99 967.63 L1097.51 968.76 L1101.02 969.90 L1104.53 971.04 L1108.05 972.19 L1111.56 973.35 L1115.07 974.51 L1118.59 975.68 L1122.10 976.86 L1125.61 978.05 L1129.13 979.24 L1132.64 980.44 L1136.15 981.64 L1139.67 982.85 L1143.18 984.07 L1146.69 985.30 L1150.21 986.53 L1153.72 987.77 L1157.23 989.02 L1160.75 990.27 L1164.26 991.53 L1167.77 992.80 L1171.29 994.07 L1174.80 995.36 L1178.31 996.64 L1181.83 997.94 L1185.34 999.24 L1188.85 1000.55 L1192.37 1001.87 L1195.88 1003.19 L1199.39 1004.52 L1202.91 1005.85 L1206.42 1007.20 L1209.93 1008.55 L1213.45 1009.90 L1216.96 1011.27 L1220.47 1012.64 L1223.99 1014.02 L1227.50 1015.40 L1231.01 1016.79 L1234.53 1018.19 L1238.04 1019.60 L1241.55 1021.01 L1245.07 1022.43 L1248.58 1023.85 L1252.09 1025.29 L1255.61 1026.73 L1259.12 1028.17 L1262.63 1029.63 L1266.15 1031.09 L1269.66 1032.56 L1273.17 1034.03 L1276.69 1035.51 L1280.20 1037.00 L1283.71 1038.49 L1287.23 1040.00 L1290.74 1041.51 L1294.25 1043.02 L1297.77 1044.54 L1301.28 1046.07 L1304.79 1047.61 L1308.31 1049.15 L1311.82 1050.70 L1315.33 1052.26 L1318.85 1053.82 L1322.36 1055.40 L1325.87 1056.97 L1329.39 1058.56 L1332.90 1060.15 L1336.41 1061.75 L1339.93 1063.35 L1343.44 1064.97 L1346.95 1066.59 L1350.47 1068.21 L1353.98 1069.85 L1357.49 1071.49 L1361.01 1073.13 L1364.52 1074.79 L1368.03 1076.45 L1371.55 1078.11 L1375.06 1079.79 L1378.57 1081.47 L1382.09 1083.16 L1385.60 1084.85 L1389.11 1086.56 L1392.63 1088.26 L1396.14 1089.98 L1399.65 1091.70 L1403.17 1093.43 L1406.68 1095.17 L1410.19 1096.91 L1413.71 1098.66 L1417.22 1100.42 L1420.73 1102.18 L1424.25 1103.96 L1427.76 1105.73 L1431.27 1107.52 L1434.79 1109.31 L1438.30 1111.11 L1441.81 1112.91 L1445.33 1114.73 L1448.84 1116.55 L1452.35 1118.37 L1455.87 1120.21 L1459.38 1122.05 L1462.89 1123.89 L1466.41 1125.75 L1469.92 1127.61 L1473.43 1129.47 L1476.95 1131.35 L1480.46 1133.23 L1483.97 1135.12 L1487.49 1137.01 L1491.00 1138.92 L1494.51 1140.83 L1498.03 1142.74 L1501.54 1144.66 L1505.06 1146.59 L1508.57 1148.53 L1512.08 1150.47 L1515.60 1152.42 L1519.11 1154.38 L1522.62 1156.35 L1526.14 1158.32 L1529.65 1160.29 L1533.16 1162.28 L1536.68 1164.27 L1540.19 1166.27 L1543.70 1168.28 L1547.22 1170.29 L1550.73 1172.31 L1554.24 1174.33 L1557.76 1176.37 L1561.27 1178.41 L1564.78 1180.45 L1568.30 1182.51 L1571.81 1184.57 L1575.32 1186.64 L1578.84 1188.71 L1582.35 1190.79 L1585.86 1192.88 L1589.38 1194.98 L1592.89 1197.08 L1596.40 1199.19 L1599.92 1201.30 L1603.43 1203.43 L1606.94 1205.56 L1610.46 1207.69 L1613.97 1209.84 L1617.48 1211.99 L1621.00 1214.15 L1624.51 1216.31 L1628.02 1218.48 L1631.54 1220.66 L1635.05 1222.84 L1638.56 1225.04 L1642.08 1227.23 L1645.59 1229.44 L1649.10 1231.65 L1652.62 1233.87 L1656.13 1236.10 L1659.64 1238.33 L1663.16 1240.57 L1666.67 1242.82 L1670.18 1245.07 L1673.70 1247.33 L1677.21 1249.60 L1680.72 1251.88 L1684.24 1254.16 L1687.75 1256.45 L1691.26 1258.74 L1694.78 1261.05 L1698.29 1263.35 L1701.80 1265.67 L1705.32 1267.99 L1708.83 1270.32 L1712.34 1272.66 L1715.86 1275.00 L1719.37 1277.35 L1722.88 1279.71 L1726.40 1282.08 L1729.91 1284.45 L1734.05 1287.24"/>
</g>
<g transform="scale(0.875 1)" shape-rendering="crispEdges">
<line x1="1089.14" y1="693.70" x2="1235.31" y2="1121.36" stroke="#000" stroke-width="4.2"/>
<polygon fill="#000" points="1244.69,1148.80 1225.94,1120.23 1235.31,1121.36 1242.02,1114.73"/>
</g>
<g fill="#000" shape-rendering="crispEdges">
<rect x="247" y="63" width="2" height="1287"/>
<rect x="2034" y="63" width="2" height="1287"/>
<rect x="247" y="63" width="1789" height="3"/>
<rect x="247" y="1348" width="1789" height="2"/>
</g>
<g shape-rendering="crispEdges">
<rect x="269" y="66" width="421" height="488" fill="#fff"/>
<g fill="#000">
<rect x="269" y="63" width="1" height="491"/>
<rect x="689" y="63" width="1" height="491"/>
<rect x="269" y="553" width="421" height="1"/>
</g>
<rect x="287" y="133" width="44" height="1" fill="#0000ff"/>
<rect x="287" y="250" width="4" height="1" fill="#ff8000"/>
<rect x="293" y="250" width="4" height="1" fill="#ff8000"/>
<rect x="299" y="250" width="4" height="1" fill="#ff8000"/>
<rect x="305" y="250" width="4" height="1" fill="#ff8000"/>
<rect x="311" y="250" width="4" height="1" fill="#ff8000"/>
<rect x="317" y="250" width="4" height="1" fill="#ff8000"/>
<rect x="323" y="250" width="4" height="1" fill="#ff8000"/>
<rect x="329" y="250" width="2" height="1" fill="#ff8000"/>
<rect x="287" y="367" width="7" height="1" fill="#00ff00"/>
<rect x="296" y="367" width="7" height="1" fill="#00ff00"/>
<rect x="305" y="367" width="7" height="1" fill="#00ff00"/>
<rect x="314" y="367" width="7" height="1" fill="#00ff00"/>
<rect x="323" y="367" width="5" height="1" fill="#00ff00"/>
<rect x="287" y="484" width="7" height="1" fill="#ff0000"/>
<rect x="299" y="484" width="7" height="1" fill="#ff0000"/>
<rect x="311" y="484" width="7" height="1" fill="#ff0000"/>
<rect x="323" y="484" width="7" height="1" fill="#ff0000"/>
</g>
<defs><filter id="bold" x="-10%" y="-25%" width="120%" height="150%" color-interpolation-filters="sRGB"><feMorphology operator="dilate" radius="0 1"/></filter></defs>
<g transform="scale(0.905 1)" font-size="59.6" stroke="#000" stroke-width="1" stroke-linejoin="miter">
<text filter="url(#bold)" y="148.3"><tspan x="434.46 491.22">We</tspan> <tspan x="540.90" dy="3.1" font-size="54.5">=</tspan> <tspan x="591.11 623.65 639.62 672.76" dy="-3.1">0.50</tspan></text>
<text filter="url(#bold)" y="265.3"><tspan x="434.46 491.22">We</tspan> <tspan x="540.90" dy="3.1" font-size="54.5">=</tspan> <tspan x="592.03 623.65 639.56 672.76" dy="-3.1">1.00</tspan></text>
<text filter="url(#bold)" y="382.3"><tspan x="434.46 491.22">We</tspan> <tspan x="540.90" dy="3.1" font-size="54.5">=</tspan> <tspan x="592.03 623.65 639.62 672.76" dy="-3.1">1.50</tspan></text>
<text filter="url(#bold)" y="499.3"><tspan x="434.46 491.22">We</tspan> <tspan x="540.90" dy="3.1" font-size="54.5">=</tspan> <tspan x="590.61 623.65 639.56 672.76" dy="-3.1">2.00</tspan></text>
<text filter="url(#bold)" x="267.90 301.06 316.58" y="1419.5">0.0</text>
<text filter="url(#bold)" x="646.91 680.06 695.58" y="1419.5">0.2</text>
<text filter="url(#bold)" x="1026.52 1059.12 1074.72" y="1419.5">0.4</text>
<text filter="url(#bold)" x="1405.47 1438.07 1453.94" y="1419.5">0.6</text>
<text filter="url(#bold)" x="1784.48 1817.08 1833.15" y="1419.5">0.8</text>
<text filter="url(#bold)" x="2165.40 2196.09 2212.71" y="1419.5">1.0</text>
<text filter="url(#bold)" x="168.51 200.59 216.52" y="1151.5">0.8</text>
<text filter="url(#bold)" x="169.77 200.59 217.02" y="901.5">1.0</text>
<text filter="url(#bold)" x="169.77 200.59 216.47" y="651.5">1.2</text>
<text filter="url(#bold)" x="169.77 200.59 216.73" y="401.5">1.4</text>
<text filter="url(#bold)" x="169.77 200.59 216.86" y="151.5">1.6</text>
</g>
<g fill="#fff">
<rect x="538.40" y="258.35" width="10.50" height="10.45"/>
<rect x="554.57" y="258.35" width="10.08" height="10.45"/>
<rect x="538.40" y="375.35" width="10.50" height="10.45"/>
<rect x="554.57" y="375.35" width="10.08" height="10.45"/>
<rect x="1962.30" y="1412.55" width="10.50" height="10.45"/>
<rect x="1978.47" y="1412.55" width="10.08" height="10.45"/>
<rect x="156.25" y="894.55" width="10.50" height="10.45"/>
<rect x="172.42" y="894.55" width="10.08" height="10.45"/>
<rect x="156.25" y="644.55" width="10.50" height="10.45"/>
<rect x="172.42" y="644.55" width="10.08" height="10.45"/>
<rect x="156.25" y="394.55" width="10.50" height="10.45"/>
<rect x="172.42" y="394.55" width="10.08" height="10.45"/>
<rect x="156.25" y="144.55" width="10.50" height="10.45"/>
<rect x="172.42" y="144.55" width="10.08" height="10.45"/>
<rect x="567.33" y="138.30" width="9.14" height="4.60"/>
<rect x="567.33" y="255.30" width="9.14" height="4.60"/>
<rect x="567.33" y="372.30" width="9.14" height="4.60"/>
<rect x="567.33" y="489.30" width="9.14" height="4.60"/>
<rect x="275.38" y="1409.50" width="9.14" height="4.60"/>
<rect x="618.38" y="1409.50" width="9.14" height="4.60"/>
<rect x="961.43" y="1409.50" width="9.14" height="4.60"/>
<rect x="1304.38" y="1409.50" width="9.14" height="4.60"/>
<rect x="1647.38" y="1409.50" width="9.14" height="4.60"/>
<rect x="1990.38" y="1409.50" width="9.14" height="4.60"/>
<rect x="184.46" y="1141.50" width="9.14" height="4.60"/>
<rect x="184.46" y="891.50" width="9.14" height="4.60"/>
<rect x="184.46" y="641.50" width="9.14" height="4.60"/>
<rect x="184.46" y="391.50" width="9.14" height="4.60"/>
<rect x="184.46" y="141.50" width="9.14" height="4.60"/>
</g>
<g transform="translate(1122.3 1538.85) scale(0.908 1)" font-size="58.3" stroke="#000" stroke-width="1.3">
<text class="m" x="0" y="0" font-style="italic">ζ</text>
</g>
<g transform="translate(85.32 775.0) scale(0.889 1) rotate(-90)" font-size="56.3" stroke="#000" stroke-width="1.3">
<text class="m" y="0"><tspan x="0.72" font-style="italic">f</tspan><tspan x="30.04" dy="5.26" font-size="66" textLength="10.58" lengthAdjust="spacingAndGlyphs">′</tspan><tspan x="43.2" dy="-0.6" font-size="63.5">(</tspan><tspan x="67.28" dy="-4.06" font-size="56.9" font-style="italic" textLength="33.48" lengthAdjust="spacingAndGlyphs">ζ</tspan><tspan x="101.5" dy="4.06" font-size="63.5">)</tspan></text>
</g>
</svg></body></html>
